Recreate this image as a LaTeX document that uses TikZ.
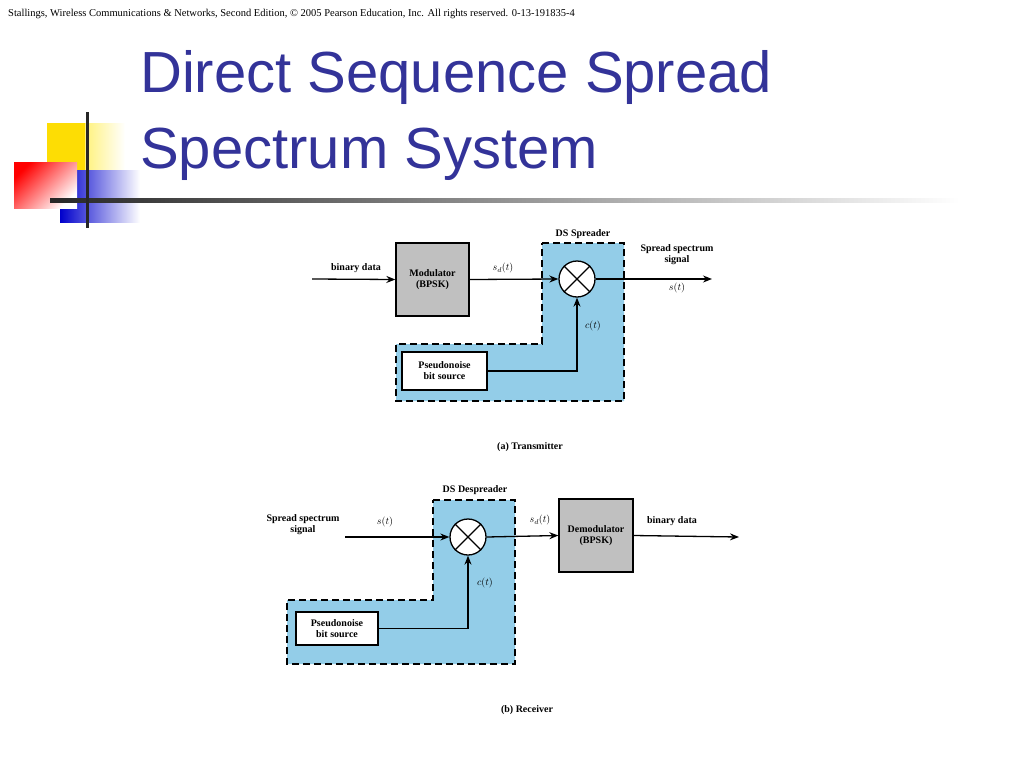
\documentclass[tikz,border=0pt]{standalone}
\usepackage{fontspec}
\setmainfont{Liberation Serif}
\newfontfamily\titlefont{Liberation Sans}
\usetikzlibrary{arrows.meta}
\definecolor{ttl}{RGB}{51,51,153}
\definecolor{blu}{RGB}{147,205,232}
\definecolor{gry}{RGB}{192,192,192}
\begin{document}
\begin{tikzpicture}[x=1pt,y=-1pt,
 lbl/.style={font=\fontsize{10}{11}\selectfont\bfseries,align=center,inner sep=0pt},
 box/.style={draw,line width=1.3pt,font=\fontsize{10}{11}\selectfont\bfseries,align=center,inner sep=0pt},
 region/.style={fill=blu,draw,dashed,dash pattern=on 7pt off 4pt,line width=1.3pt},
 arr/.style={line width=1.3pt,-{Stealth[length=9pt,width=7pt]}},
 ln/.style={line width=1.3pt},
 mul/.style={circle,draw,fill=white,line width=1.3pt,minimum size=36pt,inner sep=0pt}]
\useasboundingbox (0,0) rectangle (1024,768);
\node[anchor=west,inner sep=0pt,font=\fontsize{10.5}{12}\selectfont] (hdr) at (8,14) {Stallings, Wireless Communications \& Networks, Second Edition, \textcopyright{} 2005 Pearson Education, Inc. All rights reserved. 0-13-191835-4};
\node[anchor=north west,inner sep=0pt,align=left,text=ttl,font=\titlefont\fontsize{58}{76}\selectfont] (title) at (140,50) {Direct Sequence Spread\\Spectrum System};
% logo
\fill[left color=yellow!80!orange,right color=white] (47,123) rectangle (125,200);
\fill[yellow!80!orange] (47,123) rectangle (85,170);
\fill[left color=blue!80!black,right color=white] (60,170) rectangle (140,222);
\fill[top color=red,bottom color=white,shading angle=45] (14,162) rectangle (77,208);
\fill[left color=black!85,right color=white] (50,198) rectangle (960,202);
\draw[line width=3pt,black!85] (87,112) -- (87,228);
% transmitter
\draw[region] (542,243) -- (624,243) -- (624,401) -- (396,401) -- (396,344) -- (542,344) -- cycle;
\node[box,fill=gry,minimum width=73pt,minimum height=73pt] (mod) at (432.5,279.5) {Modulator\\(BPSK)};
\node[mul] (m1) at (577,279) {};
\draw[ln] (m1.45) -- (m1.225) (m1.135) -- (m1.315);
\node[box,fill=white,minimum width=85pt,minimum height=38pt] (pn1) at (444.5,371) {Pseudonoise\\bit source};
\coordinate (in1) at (312,279);
\coordinate (out1) at (712,279);
\draw[arr] (in1) -- (mod.west);
\draw[arr] (mod.east) -- (m1.west);
\draw[arr] (m1.east) -- (out1);
\draw[arr] (pn1.east) -| (m1.south);
\node[lbl] (bd1) at (356,268) {binary data};
\node[lbl] (sd1) at (503,268) {$s_d(t)$};
\node[lbl] (ds1) at (583,234) {DS Spreader};
\node[lbl] (ss1) at (677,255) {Spread spectrum\\signal};
\node[lbl] (st1) at (677,288) {$s(t)$};
\node[lbl] (ct1) at (593,326) {$c(t)$};
\node[lbl] (capa) at (530,447) {(a) Transmitter};
% receiver
\draw[region] (433,500) -- (515,500) -- (515,664) -- (287,664) -- (287,600) -- (433,600) -- cycle;
\node[box,fill=gry,minimum width=74pt,minimum height=73pt] (dem) at (596,535.5) {Demodulator\\(BPSK)};
\node[mul] (m2) at (468,537) {};
\draw[ln] (m2.45) -- (m2.225) (m2.135) -- (m2.315);
\node[box,fill=white,minimum width=82pt,minimum height=33pt] (pn2) at (337,628.5) {Pseudonoise\\bit source};
\coordinate (in2) at (345,537);
\coordinate (out2) at (739,537);
\draw[arr] (in2) -- (m2.west);
\draw[arr] (m2.east) -- (dem.west);
\draw[arr] (dem.east) -- (out2);
\draw[arr] (pn2.east) -| (m2.south);
\node[lbl] (ss2) at (303,525) {Spread spectrum\\signal};
\node[lbl] (st2) at (385,522) {$s(t)$};
\node[lbl] (ds2) at (475,490) {DS Despreader};
\node[lbl] (sd2) at (540,520) {$s_d(t)$};
\node[lbl] (bd2) at (672,521) {binary data};
\node[lbl] (ct2) at (485,583) {$c(t)$};
\node[lbl] (capb) at (527,710) {(b) Receiver};
\end{tikzpicture}
\end{document}
